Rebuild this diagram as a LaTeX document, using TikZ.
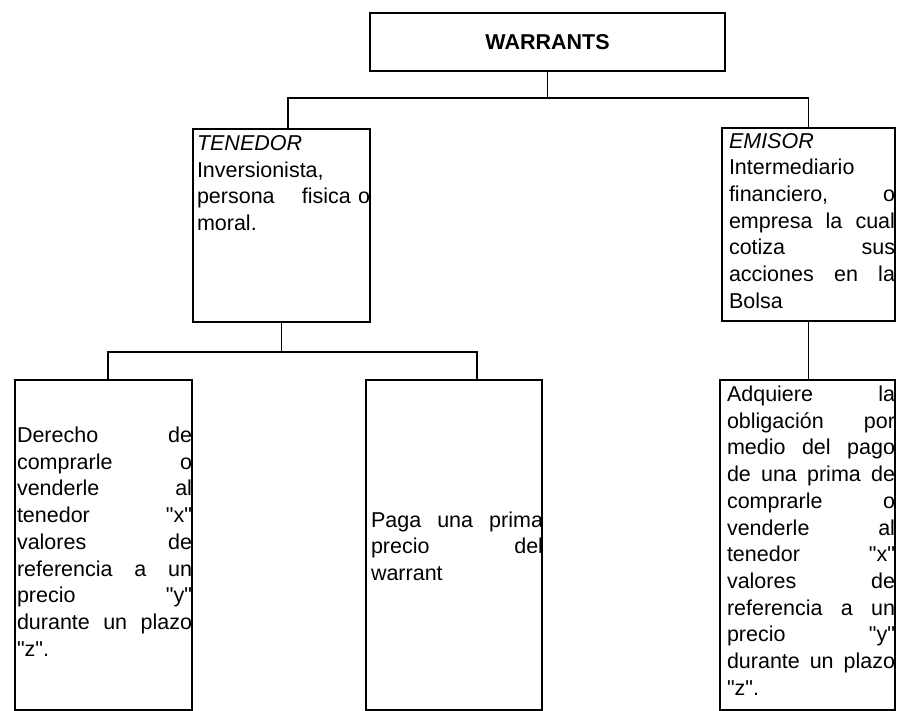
\documentclass[tikz,border=0pt]{standalone}
\usepackage{fontspec}
\setmainfont{Liberation Sans}[Ligatures=TeXOff]
% one fully justified line (gaps marked with \hfil), and one line at its natural width
\newcommand\jl[1]{\hbox to\hsize{#1}}
\newcommand\fl[1]{\hbox{#1}}
\begin{document}
\begin{tikzpicture}[x=1pt,y=1pt,
  box/.style={draw, line width=2.6pt, inner sep=0pt, outer sep=0pt, anchor=north west},
  link/.style={line width=1.6pt},
  txt/.style={inner sep=0pt, outer sep=0pt, anchor=north west, align=left,
    font=\fontsize{21.5}{26.7}\selectfont}]
\useasboundingbox (0,0) rectangle (897,-710);

% boxes
\node[box, minimum width=355pt, minimum height=58pt,
  font=\fontsize{21.5}{26}\selectfont\bfseries] (W) at (370,-13) {WARRANTS};
\node[box, minimum width=177pt, minimum height=193pt] (T) at (193,-129) {};
\node[box, minimum width=173pt, minimum height=193pt] (E) at (722,-128) {};
\node[box, minimum width=177pt, minimum height=330pt] (L) at (15,-380) {};
\node[box, minimum width=176pt, minimum height=330pt] (M) at (366,-380) {};
\node[box, minimum width=175pt, minimum height=330pt] (R) at (720,-380) {};

% box texts
\node[txt, text width=173pt] (Tt) at ([shift={(4,-6.5)}]T.north west) {%
  \fl{\itshape TENEDOR}
  \fl{Inversionista,}
  \jl{persona \hfil fisica o}
  \fl{moral.}};
\node[txt, text width=166pt] (Et) at ([shift={(7,-5)}]E.north west) {%
  \fl{\itshape EMISOR}
  \fl{Intermediario}
  \jl{financiero, \hfil o}
  \jl{empresa \hfil la \hfil cual}
  \jl{cotiza \hfil sus}
  \jl{acciones \hfil en \hfil la}
  \fl{Bolsa}};
\node[txt, text width=175pt] (Lt) at ([shift={(2,-47)}]L.north west) {%
  \jl{Derecho \hfil de}
  \jl{comprarle \hfil o}
  \jl{venderle \hfil al}
  \jl{tenedor \hfil "x"}
  \jl{valores \hfil de}
  \jl{referencia \hfil a \hfil un}
  \jl{precio \hfil "y"}
  \jl{durante \hfil un \hfil plazo}
  \fl{"z".}};
\node[txt, text width=172pt] (Mt) at ([shift={(5,-131.5)}]M.north west) {%
  \jl{Paga \hfil una \hfil prima}
  \jl{precio \hfil del}
  \fl{warrant}};
\node[txt, text width=168pt] (Rt) at ([shift={(7,-6)}]R.north west) {%
  \jl{Adquiere \hfil la}
  \jl{obligación \hfil por}
  \jl{medio \hfil del \hfil pago}
  \jl{de \hfil una \hfil prima \hfil de}
  \jl{comprarle \hfil o}
  \jl{venderle \hfil al}
  \jl{tenedor \hfil "x"}
  \jl{valores \hfil de}
  \jl{referencia \hfil a \hfil un}
  \jl{precio \hfil "y"}
  \jl{durante \hfil un \hfil plazo}
  \fl{"z".}};

% connectors
\draw[link] (W.south) -- ++(0,-27) coordinate (wj);
\draw[link] ([xshift=6.5pt]T.north) |- (wj) -| (E.north);
\draw[link] (T.south) -- ++(0,-30) coordinate (tj);
\draw[link] ([xshift=4.5pt]L.north) |- (tj) -| ([xshift=23pt]M.north);
\draw[link] (E.south) -- (E.south |- R.north);
\end{tikzpicture}
\end{document}
